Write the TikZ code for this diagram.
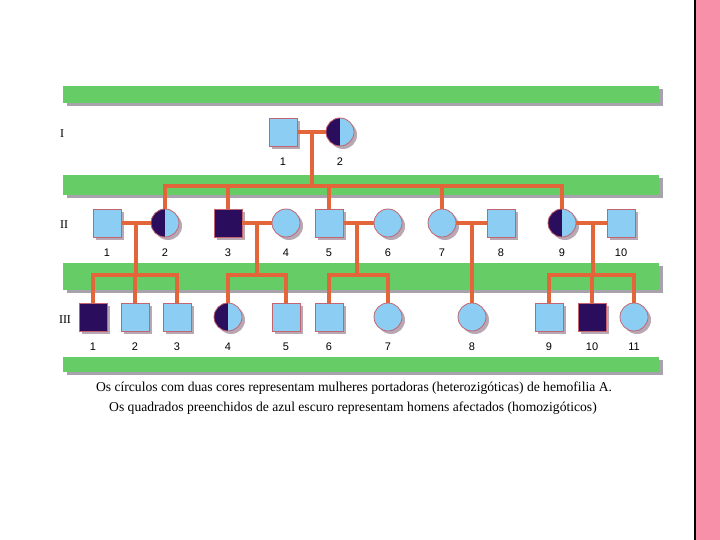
\documentclass[tikz,border=0pt]{standalone}
\usepackage{fontspec}
\setmainfont{Liberation Serif}
\newfontfamily\numfont{Liberation Sans}
\usetikzlibrary{shadows}
\definecolor{barGreen}{HTML}{66CC66}
\definecolor{barShadow}{HTML}{A8A2AC}
\definecolor{lightBlue}{HTML}{8CCDF4}
\definecolor{darkInd}{HTML}{2A0D5C}
\definecolor{indEdge}{HTML}{C46470}
\definecolor{indShadow}{HTML}{B8A8B4}
\definecolor{lineOrange}{HTML}{E2663A}
\definecolor{sidePink}{HTML}{F790A8}

\begin{document}
\begin{tikzpicture}[x=1pt,y=-1pt,
    ind/.style={minimum size=28pt,inner sep=0pt,draw=indEdge,line width=0.8pt,fill=lightBlue,
      drop shadow={shadow xshift=3pt,shadow yshift=-3pt,fill=indShadow,opacity=1}},
    male/.style={ind,rectangle},
    female/.style={ind,circle},
    affM/.style={male,fill=darkInd},
    carrierF/.style={female,path picture={\fill[darkInd] (path picture bounding box.south west) rectangle (path picture bounding box.north);}},
    line/.style={lineOrange,line width=3.5pt},
    num/.style={font=\numfont\fontsize{11}{13}\selectfont,label distance=8pt},
    gen/.style={font=\fontsize{12}{14}\selectfont},
    foot/.style={font=\fontsize{13.6}{16}\selectfont}]
  \useasboundingbox (0,0) rectangle (720,540);
  % side band
  \fill[sidePink] (695,0) rectangle (720,540);
  \draw[black,line width=1.6pt] (695,0) -- (695,540);
  % green bands
  \foreach \t/\b in {86/103,175/195,263/290,357/372}
    {
    \fill[barShadow] (67,\t+3) rectangle (663,\b+3);
    \fill[barGreen] (63,\t) rectangle (659,\b);
    }
  % generations
  \node[gen] (gI) at (62,134) {I};
  \node[gen] (gII) at (64,225) {II};
  \node[gen] (gIII) at (65,320) {III};
  % individuals
  \foreach \n/\x/\s in {1/283/male,2/340/carrierF}
    \node[\s,label={[num]below:\n}] (I\n) at (\x,132) {};
  \foreach \n/\x/\s in {1/107/male,2/165/carrierF,3/228/affM,4/286/female,5/329/male,
                        6/388/female,7/442/female,8/501/male,9/562/carrierF,10/621/male}
    \node[\s,label={[num]below:\n}] (II\n) at (\x,223) {};
  \foreach \n/\x/\s in {1/93/affM,2/135/male,3/177/male,4/228/carrierF,5/286/male,6/329/male,
                        7/388/female,8/472/female,9/549/male,10/592/affM,11/634/female}
    \node[\s,label={[num]below:\n}] (III\n) at (\x,317) {};
  % generation I family
  \draw[line] (I1) -- (I2);
  \coordinate (mI) at (312,132);
  \coordinate (sI) at (312,186);
  \draw[line] (mI) -- (sI);
  \foreach \c in {2,3,5,7,9}
    \draw[line] (II\c.north) |- (sI);
  % generation II families
  \foreach \a/\b/\x/\kids in {1/2/136/{1,2,3},3/4/257/{4,5},5/6/357/{6,7},9/10/593/{9,10,11}}
    {
    \draw[line] (II\a) -- (II\b);
    \coordinate (m\a) at (\x,223);
    \coordinate (s\a) at (\x,275);
    \draw[line] (m\a) -- (s\a);
    \foreach \k in \kids
      \draw[line] (III\k.north) |- (s\a);
    }
  \draw[line] (II7) -- (II8);
  \coordinate (m7) at (472,223);
  \draw[line] (m7) -- (III8.north);
  % legend
  \node[foot] (note1) at (354,388) {Os círculos com duas cores representam mulheres portadoras (heterozigóticas) de hemofilia A.};
  \node[foot] (note2) at (353,408) {Os quadrados preenchidos de azul escuro representam homens afectados (homozigóticos)};
\end{tikzpicture}
\end{document}
